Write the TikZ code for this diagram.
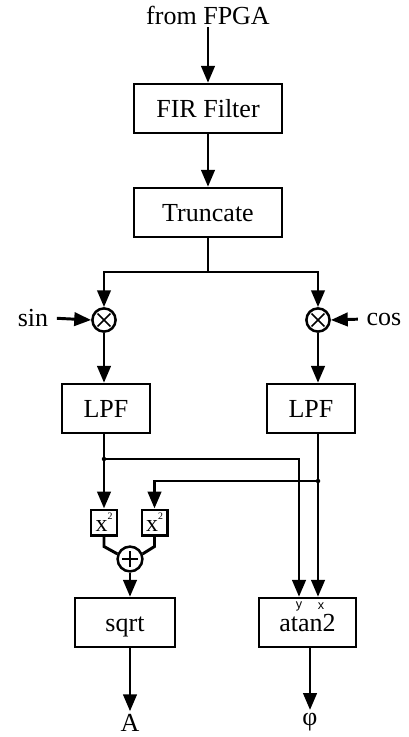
\documentclass[tikz,border=0pt]{standalone}
\usepackage{fontspec}
\setmainfont{Liberation Serif}
\newfontfamily\labsans{Liberation Sans}
\usetikzlibrary{arrows.meta}
\tikzset{
  txt/.style={inner sep=2pt, font=\fontsize{18.5}{20}\selectfont},
  blk/.style={draw, line width=1.8pt, minimum height=1.22cm, inner sep=0pt, text height=12.5pt, text depth=0pt, font=\fontsize{18.5}{20}\selectfont},
  sq/.style={draw, line width=1.7pt, minimum size=0.64cm, inner sep=0pt, font=\fontsize{17}{18}\selectfont},
  arr/.style={line width=2.1pt, -{Triangle[length=12pt,width=9.5pt]}},
  wire/.style={line width=2.1pt},
  mixer/.style={draw, circle, line width=1.8pt, minimum size=0.58cm, inner sep=0pt,
    path picture={\draw[line width=1.2pt]
      ([shift={(-0.16cm,-0.16cm)}]path picture bounding box.center) -- ([shift={(0.16cm,0.16cm)}]path picture bounding box.center)
      ([shift={(-0.16cm,0.16cm)}]path picture bounding box.center) -- ([shift={(0.16cm,-0.16cm)}]path picture bounding box.center);}},
  adder/.style={draw, circle, line width=1.8pt, minimum size=0.62cm, inner sep=0pt,
    path picture={\draw[line width=1.4pt]
      ([yshift=-0.2cm]path picture bounding box.center) -- ([yshift=0.2cm]path picture bounding box.center)
      ([xshift=-0.2cm]path picture bounding box.center) -- ([xshift=0.2cm]path picture bounding box.center);}},
  pin/.style={inner sep=1pt, font=\labsans\fontsize{9}{9}\selectfont}
}
\begin{document}
\begin{tikzpicture}[x=0.025cm, y=-0.025cm]
\useasboundingbox (0,0) rectangle (408,737);
\node[txt] (src) at (208,15) {from FPGA};
\node[blk, minimum width=3.7cm] (fir) at (208,108.5) {FIR Filter};
\node[blk, minimum width=3.7cm] (trunc) at (208,212.5) {Truncate};
\coordinate (split) at (208,272);
\node[mixer] (mixl) at (104,320) {};
\node[mixer] (mixr) at (318,320) {};
\node[txt] (sin) at (33,318) {sin};
\node[txt] (cos) at (384,319) {cos};
\node[blk, minimum width=2.2cm] (lpfl) at (106,408.5) {LPF};
\node[blk, minimum width=2.2cm] (lpfr) at (311,408.5) {LPF};
\coordinate (dl) at (104,459);
\coordinate (dr) at (318,481);
\node[sq] (sql) at (104,522.5) {x\raisebox{1.1ex}{\fontsize{7}{7}\selectfont 2}};
\node[sq] (sqr) at (154.5,522.5) {x\raisebox{1.1ex}{\fontsize{7}{7}\selectfont 2}};
\node[adder] (sum) at (130,559) {};
\node[blk, minimum width=2.5cm] (sqrt) at (125,622.5) {sqrt};
\node[blk, minimum width=2.42cm] (atan) at (307.5,622.5) {atan2};
\node[pin] (ypin) at (299,606) {y};
\node[pin] (xpin) at (321,606) {x};
\node[txt] (outa) at (130,723) {A};
\node[txt] (outp) at (310,722) {φ};
% input chain
\draw[arr] (src.south) -- (fir.north);
\draw[arr] (fir.south) -- (trunc.north);
\draw[wire] (trunc.south) -- (split);
\draw[arr] (split) -| (mixl.north);
\draw[arr] (split) -| (mixr.north);
\draw[arr, shorten <=4pt] (sin.east) -- (mixl.west);
\draw[arr, shorten <=4pt] (cos.west) -- (mixr.east);
\draw[arr] (mixl.south) -- (mixl.south |- lpfl.north);
\draw[arr] (mixr.south) -- (mixr.south |- lpfr.north);
% magnitude and phase
\draw[wire] (lpfl.south -| dl) -- (dl);
\draw[arr] (dl) -- (sql.north);
\draw[arr] (dl) -| (ypin |- atan.north);
\draw[arr] (lpfr.south -| dr) -- (dr |- atan.north);
\draw[arr] (dr) -| (sqr.north);
\fill (dl) circle (1.6pt);
\fill (dr) circle (1.6pt);
\draw[wire] (sql.south) -- ++(0,10) -- (sum.158);
\draw[wire] (sqr.south) -- ++(0,10) -- (sum.22);
\draw[arr] (sum.south) -- (sum.south |- sqrt.north);
\draw[arr] (outa |- sqrt.south) -- (outa.north);
\draw[arr] (outp |- atan.south) -- (outp.north);
\end{tikzpicture}
\end{document}
